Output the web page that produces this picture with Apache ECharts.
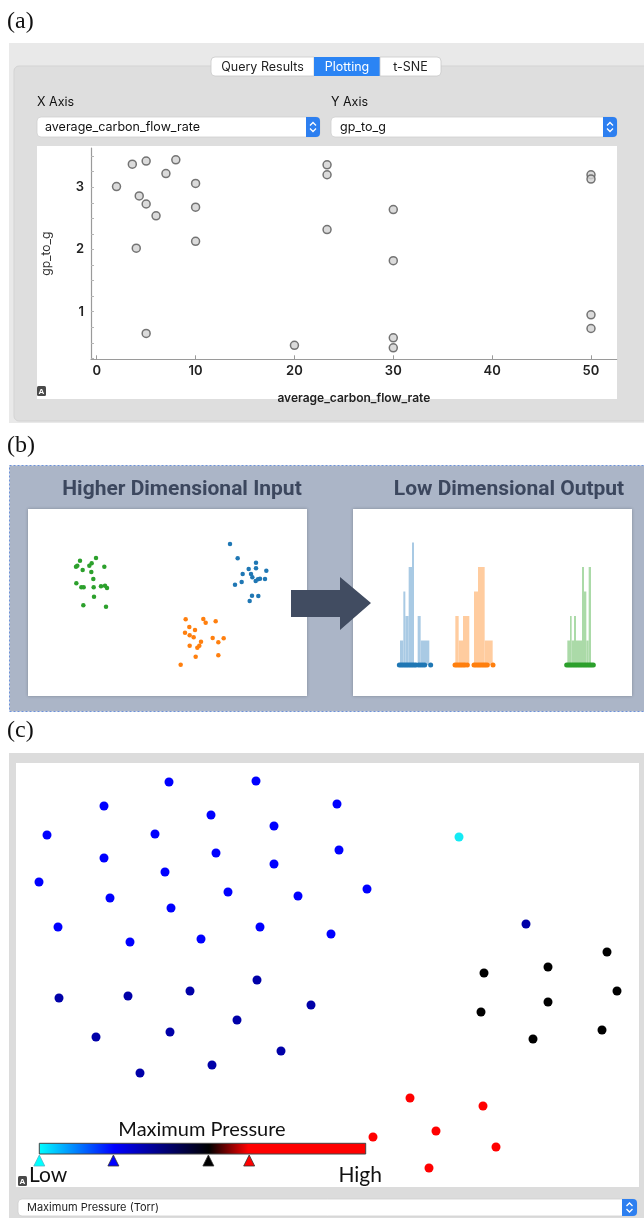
<!DOCTYPE html>
<html><head><meta charset="utf-8">
<script src="https://cdn.jsdelivr.net/npm/echarts@6/dist/echarts.min.js"></script>
<style>html,body{margin:0;padding:0;background:#fff}#c{width:644px;height:1218px}</style>
</head><body><div id="c"></div>
<script>
// ---------- Panel (a): Plotting tab scatter ----------
const flowRate = [2, 3.6, 5, 8, 7, 10, 4.3, 5, 6, 10, 4, 10, 5, 20, 23.3, 23.3, 23.3, 30, 30, 30, 30, 50, 50, 50, 50];
const gpToG    = [3.01, 3.37, 3.42, 3.44, 3.22, 3.06, 2.86, 2.73, 2.54, 2.68, 2.02, 2.13, 0.65, 0.46, 3.36, 3.2, 2.32, 2.64, 1.82, 0.58, 0.42, 3.2, 3.13, 0.95, 0.73];
const xTicksA = [0, 10, 20, 30, 40, 50];
const yLabelsA = [1, 2, 3];
const yTicksA = [0.25, 0.5, 0.75, 1, 1.25, 1.5, 1.75, 2, 2.25, 2.5, 2.75, 3, 3.25, 3.5];

// ---------- Panel (b): high-dimensional input clusters ----------
const inGreen = [[18.0,18.2],[16.8,20.0],[17.2,19.7],[18.8,21.0],[22.8,17.4],[20.8,19.7],[21.5,19.0],[21.4,21.6],[25.3,20.0],[22.0,23.7],[16.9,25.0],[18.4,26.2],[19.1,26.2],[22.1,26.2],[24.3,25.9],[25.5,25.7],[26.1,26.4],[22.2,29.0],[19.0,31.6],[25.8,32.0]];
const inBlue = [[63.0,13.2],[65.3,17.5],[70.8,18.8],[68.6,20.7],[70.8,20.5],[73.9,21.2],[66.8,22.2],[69.3,22.2],[69.7,23.2],[70.7,24.3],[71.4,23.8],[72.0,23.6],[73.5,23.7],[66.5,24.6],[64.5,25.4],[69.6,28.7],[71.5,28.8],[68.9,30.3]];
const inOrange = [[49.7,35.8],[55.0,35.7],[55.7,36.8],[58.7,36.4],[50.8,38.1],[52.5,39.0],[49.5,39.8],[50.9,40.6],[52.1,41.2],[57.8,41.4],[61.1,41.5],[54.3,42.5],[59.5,42.7],[50.9,43.7],[53.8,43.7],[53.2,44.3],[52.7,47.0],[59.5,46.6],[48.2,49.4]];

// ---------- Panel (b): low-dimensional output histograms [binStart, binEnd, count] ----------
const histBlue = [[15.0,16.0,1],[16.0,16.6,3],[16.6,17.6,2],[17.6,18.6,4],[18.6,19.2,5],[20.3,21.2,2],[21.2,23.8,1]];
const histOrange = [[31.6,32.6,2],[32.6,33.9,1],[33.9,35.8,2],[37.2,38.4,3],[38.4,40.4,4],[40.4,42.8,1]];
const histGreen = [[65.2,66.0,1],[66.0,66.5,2],[66.5,67.2,1],[67.2,67.8,2],[67.8,69.6,1],[69.6,70.2,4],[70.2,70.9,3],[70.9,71.6,1],[71.6,72.3,4]];
const rugBlue = [14.8,15.3,15.8,16.3,16.8,17.3,17.8,18.3,18.8,19.3,19.8,20.6,21.2,21.8,22.4,24.2];
const rugOrange = [31.5,32.0,32.5,33.0,33.5,34.0,34.5,35.2,37.2,37.7,38.2,38.7,39.2,39.7,40.2,40.7,41.2,42.9];
const rugGreen = [65.0,65.5,66.0,66.5,67.0,67.5,68.0,68.5,69.0,69.5,70.0,70.5,71.0,71.5,72.0,72.5,73.0];

// ---------- Panel (c): t-SNE embedding coloured by maximum pressure ----------
const tsneBlue = [[-15.8,19.3],[-7.1,19.4],[-22.3,16.9],[1.0,17.1],[-11.6,16.0],[-5.3,14.9],[-28.0,14.0],[-17.2,14.1],[-22.3,11.7],[-11.1,12.2],[-5.3,11.1],[1.2,12.5],[-16.2,10.3],[-28.8,9.3],[-21.7,7.7],[-9.9,8.3],[-2.9,7.9],[4.0,8.6],[-15.6,6.7],[-26.9,4.8],[-6.7,4.8],[-19.7,3.3],[-12.6,3.6],[0.4,4.1]];
const tsneDarkBlue = [[-26.8,-2.3],[-19.9,-2.1],[-13.7,-1.6],[-7.0,-0.5],[-1.6,-3.0],[-9.0,-4.5],[-23.1,-6.2],[-15.7,-5.7],[-4.6,-7.6],[-18.7,-9.8],[-11.5,-9.0],[19.9,5.1]];
const tsneCyan = [[13.2,13.8]];
const tsneBlack = [[28.0,2.3],[15.7,0.2],[22.1,0.8],[29.0,-1.6],[22.1,-2.7],[15.4,-3.7],[27.5,-5.5],[20.6,-6.4]];
const tsneRed = [[8.3,-12.3],[15.6,-13.1],[10.9,-15.6],[4.6,-16.2],[16.9,-17.2],[10.2,-19.3]];
const pressureStops = [[0,'#00ffff'],[0.23,'#0000ff'],[0.52,'#000000'],[0.64,'#ff0000'],[1,'#ff0000']];
const pressureMarks = [[0,'#00ffff'],[0.227,'#0000ff'],[0.518,'#000000'],[0.643,'#ff0000']];

// ---------- build ----------
const chart = echarts.init(document.getElementById('c'), null, {renderer:'canvas'});
const UI = 'Inter, Roboto, "Liberation Sans", sans-serif';
const hidden = (i,min,max,inv) => ({gridIndex:i, type:'value', min:min, max:max, inverse:!!inv, show:false});

function histRender(params, api){
  const p0 = api.coord([api.value(0), api.value(2)]);
  const p1 = api.coord([api.value(1), 0]);
  return {type:'rect', shape:{x:p0[0], y:p0[1], width:p1[0]-p0[0], height:p1[1]-p0[1]}, style:api.style()};
}

// panel (c) colour bar graphics
const cbX = 39.3, cbY = 1143.3, cbW = 326.4, cbH = 10.7;
const cbGraphics = [{
  type:'rect', z:100, shape:{x:cbX, y:cbY, width:cbW, height:cbH},
  style:{fill:new echarts.graphic.LinearGradient(0,0,1,0, pressureStops.map(s=>({offset:s[0], color:s[1]}))), stroke:'#444', lineWidth:1}
}];
pressureMarks.forEach(m => {
  const cx = cbX + m[0]*cbW;
  cbGraphics.push({type:'polygon', z:100, shape:{points:[[cx,1155],[cx-5.5,1166],[cx+5.5,1166]]},
    style:{fill:m[1], stroke: m[1]==='#00ffff' ? '#4fb8c8' : '#333', lineWidth:0.8}});
});

function stepper(x, y, w, h){
  const cx = x + w/2, cy = y + h/2;
  return [
    {type:'rect', z:1, shape:{x:x, y:y, width:w, height:h, r:[0,4,4,0]}, style:{fill:'#2d7ff0'}},
    {type:'polyline', z:2, shape:{points:[[cx-3,cy-1.5],[cx,cy-4.5],[cx+3,cy-1.5]]}, style:{stroke:'#fff', lineWidth:1.3, fill:null}},
    {type:'polyline', z:2, shape:{points:[[cx-3,cy+1.5],[cx,cy+4.5],[cx+3,cy+1.5]]}, style:{stroke:'#fff', lineWidth:1.3, fill:null}}
  ];
}
function aIcon(x, y){
  return [
    {type:'rect', z:100, shape:{x:x, y:y, width:9, height:10, r:1.5}, style:{fill:'#4a4a4a'}},
    {type:'text', z:101, style:{x:x+4.5, y:y+5.5, text:'A', fill:'#fff', font:'bold 8px "Liberation Sans"', align:'center', verticalAlign:'middle'}}
  ];
}

const TITLE = 'bold 21px Roboto, "Liberation Sans"';
const graphics = [
  // labels
  {type:'text', z:1, style:{x:7, y:10, text:'(a)', font:'24px "Liberation Serif"', fill:'#111'}},
  {type:'text', z:1, style:{x:7, y:434, text:'(b)', font:'24px "Liberation Serif"', fill:'#111'}},
  {type:'text', z:1, style:{x:7, y:719, text:'(c)', font:'24px "Liberation Serif"', fill:'#111'}},
  // panel (a) chrome
  {type:'rect', z:-10, shape:{x:9, y:43, width:640, height:380}, style:{fill:'#e9e9e9'}},
  {type:'rect', z:-9, shape:{x:14, y:66, width:640, height:355, r:5}, style:{fill:'#dedede', stroke:'#d3d3d3'}},
  {type:'rect', z:1, shape:{x:211, y:57, width:103, height:19, r:[4,0,0,4]}, style:{fill:'#fff', stroke:'#c9c9c9', lineWidth:0.8}},
  {type:'rect', z:1, shape:{x:314, y:57, width:66, height:19}, style:{fill:'#2b84f4'}},
  {type:'rect', z:1, shape:{x:380, y:57, width:61, height:19, r:[0,4,4,0]}, style:{fill:'#fff', stroke:'#c9c9c9', lineWidth:0.8}},
  {type:'text', z:2, style:{x:262.5, y:67, text:'Query Results', fill:'#222', font:'12.5px '+UI, align:'center', verticalAlign:'middle'}},
  {type:'text', z:2, style:{x:347, y:67, text:'Plotting', fill:'#fff', font:'12.5px '+UI, align:'center', verticalAlign:'middle'}},
  {type:'text', z:2, style:{x:410.5, y:67, text:'t-SNE', fill:'#222', font:'12.5px '+UI, align:'center', verticalAlign:'middle'}},
  {type:'text', z:2, style:{x:37, y:102, text:'X Axis', fill:'#111', font:'12.5px '+UI, verticalAlign:'middle'}},
  {type:'text', z:2, style:{x:331, y:102, text:'Y Axis', fill:'#111', font:'12.5px '+UI, verticalAlign:'middle'}},
  {type:'rect', z:0, shape:{x:37, y:117, width:283, height:20, r:4}, style:{fill:'#fff', stroke:'#cfcfcf', lineWidth:0.8}},
  {type:'rect', z:0, shape:{x:331, y:117, width:286, height:20, r:4}, style:{fill:'#fff', stroke:'#cfcfcf', lineWidth:0.8}},
  {type:'text', z:2, style:{x:45, y:127, text:'average_carbon_flow_rate', fill:'#111', font:'12.5px '+UI, verticalAlign:'middle'}},
  {type:'text', z:2, style:{x:340, y:127, text:'gp_to_g', fill:'#111', font:'12.5px '+UI, verticalAlign:'middle'}},
  ...stepper(306,117,14,20), ...stepper(603,117,14,20),
  {type:'rect', z:-8, shape:{x:37, y:146, width:580, height:253}, style:{fill:'#fff'}},
  ...aIcon(37,386),
  // panel (b) chrome
  {type:'rect', z:-10, shape:{x:9.5, y:465.5, width:640, height:246}, style:{fill:'#abb5c7', stroke:'#6d93da', lineWidth:1, lineDash:[2,2]}},
  {type:'text', z:1, style:{x:182, y:490, text:'Higher Dimensional Input', fill:'#3c475e', font:TITLE, align:'center', verticalAlign:'middle'}},
  {type:'text', z:1, style:{x:509, y:490, text:'Low Dimensional Output', fill:'#3c475e', font:TITLE, align:'center', verticalAlign:'middle'}},
  {type:'rect', z:-9, shape:{x:28, y:509, width:279, height:187}, style:{fill:'#fff', shadowBlur:3, shadowColor:'rgba(0,0,0,0.25)'}},
  {type:'rect', z:-9, shape:{x:353, y:509, width:279, height:187}, style:{fill:'#fff', shadowBlur:3, shadowColor:'rgba(0,0,0,0.25)'}},
  {type:'polygon', z:50, shape:{points:[[291,590],[340,590],[340,577],[371,603],[340,630],[340,617],[291,617]]}, style:{fill:'#414c61'}},
  // panel (c) chrome
  {type:'rect', z:-10, shape:{x:9, y:753, width:640, height:470}, style:{fill:'#dcdcdc'}},
  {type:'rect', z:-9, shape:{x:16, y:763, width:623, height:424}, style:{fill:'#fff'}},
  {type:'rect', z:0, shape:{x:18, y:1199, width:619, height:17, r:4}, style:{fill:'#fff', stroke:'#cfcfcf', lineWidth:0.8}},
  ...stepper(622,1199,15,17),
  {type:'text', z:2, style:{x:27, y:1208, text:'Maximum Pressure (Torr)', fill:'#222', font:'11px '+UI, verticalAlign:'middle'}},
  ...cbGraphics,
  {type:'text', z:100, style:{x:202, y:1130, text:'Maximum Pressure', fill:'#111', font:'20px Lato, "Open Sans", sans-serif', align:'center', verticalAlign:'middle'}},
  {type:'text', z:100, style:{x:29, y:1175, text:'Low', fill:'#111', font:'21px Lato, "Open Sans", sans-serif', verticalAlign:'middle'}},
  {type:'text', z:100, style:{x:382, y:1175, text:'High', fill:'#111', font:'21px Lato, "Open Sans", sans-serif', align:'right', verticalAlign:'middle'}},
  ...aIcon(18,1176)
];

const dot = (c, s) => ({type:'scatter', symbolSize:s, itemStyle:{color:c, opacity:1}, silent:true});

chart.setOption({
  animation:false,
  graphic:{elements:graphics},
  grid:[
    {left:91, top:148, width:525.7, height:211.3},
    {left:20, top:500, width:290, height:200},
    {left:350, top:542.5, width:290, height:122.5},
    {left:16, top:763, width:623, height:424}
  ],
  xAxis:[
    {gridIndex:0, type:'value', min:-0.58, max:52.6,
      name:'average_carbon_flow_rate', nameLocation:'middle', nameGap:33,
      nameTextStyle:{fontFamily:UI, fontSize:12, fontWeight:600, color:'#222'},
      axisLine:{onZero:false, lineStyle:{color:'#9a9a9a', width:1.2}},
      axisTick:{show:true, inside:true, length:4, customValues:xTicksA, lineStyle:{color:'#9a9a9a'}},
      axisLabel:{customValues:xTicksA, margin:5, fontFamily:UI, fontSize:13, fontWeight:600, color:'#222'},
      splitLine:{show:false}},
    hidden(1,0,87), hidden(2,0,87), hidden(3,-31.1,31.2)
  ],
  yAxis:[
    {gridIndex:0, type:'value', min:0.235, max:3.63,
      name:'gp_to_g', nameLocation:'middle', nameGap:39,
      nameTextStyle:{fontFamily:UI, fontSize:12, color:'#333'},
      axisLine:{show:true, onZero:false, lineStyle:{color:'#9a9a9a', width:1.2}},
      axisTick:{show:true, inside:true, length:3, customValues:yTicksA, lineStyle:{color:'#b5b5b5'}},
      axisLabel:{customValues:yLabelsA, margin:7, fontFamily:UI, fontSize:13, fontWeight:600, color:'#222'},
      splitLine:{show:false}},
    hidden(1,0,60,true), hidden(2,0,5), hidden(3,-21.2,21.2)
  ],
  series:[
    {type:'scatter', xAxisIndex:0, yAxisIndex:0, symbol:'circle', symbolSize:8,
      itemStyle:{color:'#d2d2d2', borderColor:'#555', borderWidth:1.5},
      data: flowRate.map((x,i)=>[x, gpToG[i]])},
    Object.assign(dot('#2ca02c',4.5), {xAxisIndex:1, yAxisIndex:1, data:inGreen}),
    Object.assign(dot('#1f77b4',4.5), {xAxisIndex:1, yAxisIndex:1, data:inBlue}),
    Object.assign(dot('#ff7f0e',4.5), {xAxisIndex:1, yAxisIndex:1, data:inOrange}),
    {type:'custom', xAxisIndex:2, yAxisIndex:2, renderItem:histRender, itemStyle:{color:'#a9cae4'}, data:histBlue, silent:true},
    {type:'custom', xAxisIndex:2, yAxisIndex:2, renderItem:histRender, itemStyle:{color:'#ffcc9f'}, data:histOrange, silent:true},
    {type:'custom', xAxisIndex:2, yAxisIndex:2, renderItem:histRender, itemStyle:{color:'#abdaa8'}, data:histGreen, silent:true},
    Object.assign(dot('#1f77b4',5), {xAxisIndex:2, yAxisIndex:2, z:5, clip:false, data:rugBlue.map(v=>[v,0])}),
    Object.assign(dot('#ff7f0e',5), {xAxisIndex:2, yAxisIndex:2, z:5, clip:false, data:rugOrange.map(v=>[v,0])}),
    Object.assign(dot('#2ca02c',5), {xAxisIndex:2, yAxisIndex:2, z:5, clip:false, data:rugGreen.map(v=>[v,0])}),
    Object.assign(dot('#0000ff',9), {xAxisIndex:3, yAxisIndex:3, data:tsneBlue}),
    Object.assign(dot('#0000a8',9), {xAxisIndex:3, yAxisIndex:3, data:tsneDarkBlue}),
    Object.assign(dot('#14eaf4',9), {xAxisIndex:3, yAxisIndex:3, data:tsneCyan}),
    Object.assign(dot('#000000',9), {xAxisIndex:3, yAxisIndex:3, data:tsneBlack}),
    Object.assign(dot('#ff0000',9), {xAxisIndex:3, yAxisIndex:3, data:tsneRed})
  ]
});
</script></body></html>
